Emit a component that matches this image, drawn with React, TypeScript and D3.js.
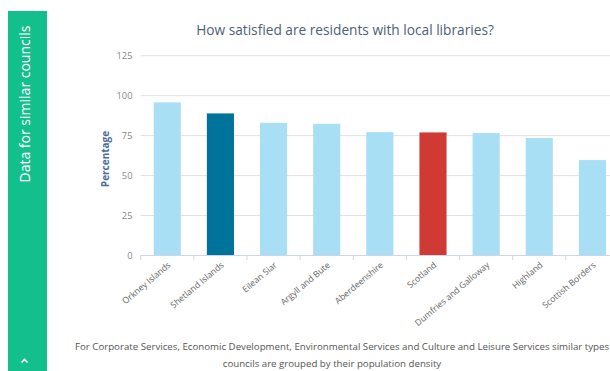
import React from "react";
import * as d3 from "d3";

const categories = ["Orkney Islands", "Shetland Islands", "Eilean Siar", "Argyll and Bute", "Aberdeenshire", "Scotland", "Dumfries and Galloway", "Highland", "Scottish Borders"];
const values = [95.8, 88.9, 83.0, 82.4, 77.2, 77.0, 76.6, 73.5, 59.7];
const barKinds = ["other", "self", "other", "other", "other", "scotland", "other", "other", "other"];
const yTicks = [0, 25, 50, 75, 100, 125];
const title = "How satisfied are residents with local libraries?";
const yLabel = "Percentage";
const sideLabel = "Data for similar councils";
const footer1 = "For Corporate Services, Economic Development, Environmental Services and Culture and Leisure Services similar types of";
const footer2 = "councils are grouped by their population density";

const colors: Record<string, string> = { other: "#a9dff4", self: "#00739a", scotland: "#cf3a34" };
const font = "'Open Sans', sans-serif";

export default function App() {
  const x = d3.scaleBand<string>().domain(categories).range([140.7, 619]).paddingInner(0.49).paddingOuter(0.245);
  const y = d3.scaleLinear().domain([0, 125]).range([255.5, 55.7]);
  const step = x.step();
  return (
    <svg width={610} height={371} style={{ position: "absolute", left: 0, top: 0 }} fontFamily={font}>
      <rect x={0} y={0} width={610} height={371} fill="#fff" />
      <rect x={8} y={11} width={39} height={360} fill="#13bf8d" />
      <text transform={`translate(29.5,104) rotate(-90)`} textAnchor="middle" fill="#fff" fontSize={14}>{sideLabel}</text>
      <path d="M21.5,362.5 L24.5,359.5 L27.5,362.5" stroke="#fff" strokeWidth={1.6} fill="none" />
      <text x={345} y={35} textAnchor="middle" fill="#4b5f78" fontSize={13.7}>{title}</text>
      {yTicks.map(t => (
        <g key={t}>
          {t > 0 && <line x1={140.7} x2={620} y1={y(t)} y2={y(t)} stroke="#e2e2e2" strokeWidth={1} />}
          <text x={132.5} y={y(t) + 3.5} textAnchor="end" fill="#888" fontSize={9.3}>{t}</text>
        </g>
      ))}
      <text transform={`translate(109,159) rotate(-90)`} textAnchor="middle" fill="#4a6d9c" fontSize={10} fontWeight="bold">{yLabel}</text>
      {categories.map((c, i) => (
        <rect key={c} x={x(c)} y={y(values[i])} width={x.bandwidth()} height={y(0) - y(values[i])} fill={colors[barKinds[i]]} />
      ))}
      <line x1={140.7} x2={620} y1={255.5} y2={255.5} stroke="#ccd6eb" strokeWidth={1} />
      {categories.map((c, i) => (
        <line key={c + "t"} x1={140.7 + i * step} x2={140.7 + i * step} y1={255.5} y2={260} stroke="#ccd6eb" strokeWidth={1} />
      ))}
      {categories.map(c => {
        const cx = (x(c) as number) + x.bandwidth() / 2;
        return (
          <text key={c + "l"} transform={`translate(${cx + 4},${266}) rotate(-40)`} textAnchor="end" fill="#666" fontSize={8.7}>{c}</text>
        );
      })}
      <text x={75} y={350} fill="#555" fontSize={9.7}>{footer1}</text>
      <text x={332} y={367} textAnchor="middle" fill="#555" fontSize={9.7}>{footer2}</text>
    </svg>
  );
}
